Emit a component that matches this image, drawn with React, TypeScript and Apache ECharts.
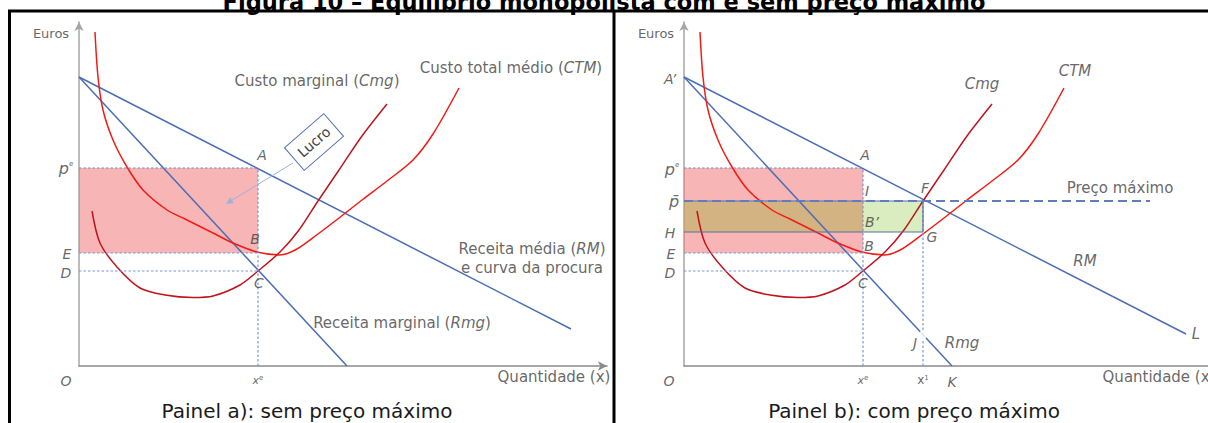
import React, { useEffect, useRef } from "react";
import * as echarts from "echarts";

// ---------- values (data units) ----------
const A_INTERCEPT = 28.9; // A' : price intercept of RM and Rmg
const RM_END_A: [number, number] = [49.2, 3.7];
const RM_END_B: [number, number] = [50.2, 3.2]; // L
const RMG_ZERO_X = 26.8; // K
const X_E = 17.9;
const P_E = 19.8;
const E_LEVEL = 11.3;
const D_LEVEL = 9.5;
const P_BAR = 16.5;
const H_LEVEL = 13.4;
const X_1 = 23.9;
const J_LEVEL = 3.1;
const PRICE_CAP_END = 46.6;
const LUCRO_ARROW: [number, number][] = [[21.4, 20.3], [15.0, 16.4]];

const ctmX = [1.6, 1.9, 2.4, 3.4, 4.8, 6.4, 8.8, 10.6, 13.4, 15.4, 17.8, 20.1, 21.8, 23.9, 26.0, 28.3, 30.8, 33.4, 35.4, 38.0];
const ctmY = [33.4, 28.9, 25.6, 22.6, 19.9, 17.6, 15.6, 14.7, 13.3, 12.3, 11.4, 11.1, 11.7, 13.2, 14.8, 16.6, 18.5, 20.6, 23.2, 27.8];
const cmgX = [1.3, 2.1, 3.8, 6.1, 8.6, 11.4, 13.4, 16.1, 17.9, 20.1, 22.0, 23.9, 26.0, 28.3, 30.8];
const cmgY = [15.5, 12.3, 9.9, 7.8, 7.1, 6.85, 7.0, 8.1, 9.5, 11.4, 13.6, 16.5, 19.6, 23.0, 26.2];

const X_MAX_A = 52.8;
const X_MAX_B = 52.4;
const Y_MAX = 34.4;

const FONT = "DejaVu Sans";
const TXT = "#404040";
const BLUE = "#4A6DB5";
const RED = "#F21B16";
const DARK_RED = "#C0141C";
const DASH = "#7C95D6";

const rich: any = {
  n: { fontSize: 15, fontFamily: FONT, color: TXT },
  e: { fontSize: 13, fontFamily: FONT, color: TXT },
  i: { fontSize: 15, fontFamily: FONT, color: TXT, fontStyle: "italic" },
  L: { fontSize: 14, fontFamily: FONT, color: TXT, fontStyle: "italic" },
  p: { fontSize: 16, fontFamily: FONT, color: TXT, fontStyle: "italic" },
  x: { fontSize: 11, fontFamily: FONT, color: TXT, fontStyle: "italic" },
  xn: { fontSize: 12, fontFamily: FONT, color: TXT },
  s: { fontSize: 7, fontFamily: FONT, color: TXT, verticalAlign: "top" },
};

type Lab = { t: string; at: [number, number]; off: [number, number] };

const ctmTop: [number, number] = [ctmX[ctmX.length - 1], ctmY[ctmY.length - 1]];
const cmgTop: [number, number] = [cmgX[cmgX.length - 1], cmgY[cmgY.length - 1]];

const labelsA: Lab[] = [
  { t: "{e|Euros}", at: [0, Y_MAX], off: [-28, 11] },
  { t: "{L|O}", at: [0, 0], off: [-13, 15] },
  { t: "{p|p}{s|e}", at: [0, P_E], off: [-13, 0] },
  { t: "{L|E}", at: [0, E_LEVEL], off: [-12, 1] },
  { t: "{L|D}", at: [0, D_LEVEL], off: [-13, 2] },
  { t: "{L|A}", at: [X_E, P_E], off: [4, -13] },
  { t: "{L|B}", at: [X_E, E_LEVEL], off: [-3, -14] },
  { t: "{L|C}", at: [X_E, D_LEVEL], off: [1, 12] },
  { t: "{x|x}{s|e}", at: [X_E, 0], off: [0, 14] },
  { t: "{n|Quantidade (x)}", at: [X_MAX_A, 0], off: [-53, 11] },
  { t: "{n|Custo marginal (}{i|Cmg}{n|)}", at: cmgTop, off: [-70, -23] },
  { t: "{n|Custo total médio (}{i|CTM}{n|)}", at: ctmTop, off: [52, -20] },
  { t: "{n|Receita média (}{i|RM}{n|)}", at: RM_END_A, off: [-39, -80] },
  { t: "{n|e curva da procura}", at: RM_END_A, off: [-39, -61] },
  { t: "{n|Receita marginal (}{i|Rmg}{n|)}", at: [RMG_ZERO_X, 0], off: [55, -43] },
];

const labelsB: Lab[] = [
  { t: "{e|Euros}", at: [0, Y_MAX], off: [-28, 11] },
  { t: "{L|A’}", at: [0, A_INTERCEPT], off: [-14, 2] },
  { t: "{p|p}{s|e}", at: [0, P_E], off: [-12, 1] },
  { t: "{p|p̄}", at: [0, P_BAR], off: [-10, 0] },
  { t: "{L|H}", at: [0, H_LEVEL], off: [-14, 1] },
  { t: "{L|E}", at: [0, E_LEVEL], off: [-13, 1] },
  { t: "{L|D}", at: [0, D_LEVEL], off: [-14, 2] },
  { t: "{L|O}", at: [0, 0], off: [-15, 15] },
  { t: "{L|A}", at: [X_E, P_E], off: [2, -13] },
  { t: "{L|I}", at: [X_E, P_BAR], off: [4, -10] },
  { t: "{L|F}", at: [X_1, P_BAR], off: [2, -13] },
  { t: "{L|B’}", at: [X_E, H_LEVEL], off: [9, -10] },
  { t: "{L|B}", at: [X_E, E_LEVEL], off: [6, -7] },
  { t: "{L|G}", at: [X_1, H_LEVEL], off: [9, 5] },
  { t: "{L|C}", at: [X_E, D_LEVEL], off: [0, 12] },
  { t: "{x|x}{s|e}", at: [X_E, 0], off: [0, 14] },
  { t: "{xn|x}{s|1}", at: [X_1, 0], off: [0, 14] },
  { t: "{L|K}", at: [RMG_ZERO_X, 0], off: [0, 16] },
  { t: "{L|J}", at: [X_1, J_LEVEL], off: [-8, 8] },
  { t: "{i|Rmg}", at: [X_1, J_LEVEL], off: [39, 8] },
  { t: "{i|RM}", at: RM_END_B, off: [-101, -73] },
  { t: "{i|L}", at: RM_END_B, off: [10, 0] },
  { t: "{i|Cmg}", at: cmgTop, off: [-10, -20] },
  { t: "{i|CTM}", at: ctmTop, off: [11, -17] },
  { t: "{n|Preço máximo}", at: [PRICE_CAP_END, P_BAR], off: [-30, -13] },
  { t: "{n|Quantidade (x)}", at: [X_MAX_B, 0], off: [-49, 11] },
];

function zip(xs: number[], ys: number[]) {
  return xs.map((x, k) => [x, ys[k]]);
}

function seg(idx: number, data: number[][], color: string, width: number, type: any, z = 4) {
  return {
    type: "line",
    xAxisIndex: idx,
    yAxisIndex: idx,
    data,
    symbol: "none",
    silent: true,
    z,
    lineStyle: { color, width, type },
  };
}

function panel(idx: number, isB: boolean) {
  const s: any[] = [];
  s.push(seg(idx, [[0, A_INTERCEPT], isB ? RM_END_B : RM_END_A], BLUE, 1.5, "solid", 2));
  s.push(seg(idx, [[0, A_INTERCEPT], [RMG_ZERO_X, 0]], BLUE, 1.5, "solid", 2));
  s.push({ ...seg(idx, zip(ctmX, ctmY), RED, 1.5, "solid", 2), smooth: 0.3 });
  s.push({ ...seg(idx, zip(cmgX, cmgY), DARK_RED, 1.5, "solid", 2), smooth: 0.3 });

  const areas: any[] = [
    [
      { coord: [0, E_LEVEL], itemStyle: { color: "rgba(240,100,100,0.48)" } },
      { coord: [X_E, P_E] },
    ],
  ];
  if (isB) {
    areas.push([
      { coord: [0, H_LEVEL], itemStyle: { color: "rgba(176,178,80,0.5)" } },
      { coord: [X_E, P_BAR] },
    ]);
    areas.push([
      { coord: [X_E, H_LEVEL], itemStyle: { color: "rgba(179,219,129,0.5)" } },
      { coord: [X_1, P_BAR] },
    ]);
  }
  s.push({
    type: "line",
    xAxisIndex: idx,
    yAxisIndex: idx,
    data: [],
    z: 3,
    silent: true,
    markArea: { silent: true, data: areas },
  });

  const d = [2.5, 2];
  s.push(seg(idx, [[0, P_E], [X_E, P_E]], "#7F84B8", 1.2, d));
  s.push(seg(idx, [[0, E_LEVEL], [X_E, E_LEVEL]], DASH, 1.2, d));
  s.push(seg(idx, [[0, D_LEVEL], [X_E, D_LEVEL]], DASH, 1.2, d));
  s.push(seg(idx, [[X_E, 0], [X_E, P_E]], DASH, 1.2, d));

  if (isB) {
    s.push(seg(idx, [[X_1, 0], [X_1, P_BAR]], DASH, 1.2, d));
    s.push(seg(idx, [[0, H_LEVEL], [X_1, H_LEVEL], [X_1, P_BAR]], "#5B6FA0", 1.2, "solid", 5));
    s.push(seg(idx, [[0, P_BAR], [X_1, P_BAR]], "#5B6FA0", 1.2, "solid", 5));
    s.push(seg(idx, [[0, P_BAR], [PRICE_CAP_END, P_BAR]], "#5F7CC0", 2, [9, 5], 6));
    s.push({
      type: "scatter",
      xAxisIndex: idx,
      yAxisIndex: idx,
      data: [[X_1, J_LEVEL]],
      symbol: "emptyCircle",
      symbolSize: 7,
      z: 6,
      silent: true,
      itemStyle: { color: "#fff", borderColor: "#999", borderWidth: 1 },
    });
  } else {
    s.push({
      type: "line",
      xAxisIndex: idx,
      yAxisIndex: idx,
      data: [],
      z: 6,
      silent: true,
      markLine: {
        silent: true,
        symbol: ["none", "triangle"],
        symbolSize: 7,
        label: { show: false },
        lineStyle: { color: "#9DB0DC", width: 1, type: "solid" },
        itemStyle: { color: BLUE },
        data: [[{ coord: LUCRO_ARROW[0] }, { coord: LUCRO_ARROW[1], itemStyle: { color: BLUE } }]],
      },
    });
  }

  const labs = isB ? labelsB : labelsA;
  s.push({
    type: "scatter",
    xAxisIndex: idx,
    yAxisIndex: idx,
    symbolSize: 1,
    silent: true,
    z: 10,
    itemStyle: { color: "rgba(0,0,0,0)" },
    data: labs.map((l) => ({
      value: l.at,
      label: {
        show: true,
        position: "inside",
        offset: l.off,
        formatter: l.t,
        rich,
      },
    })),
  });
  return s;
}

function axis(idx: number, max: number, arrow: boolean, color: string) {
  return {
    type: "value",
    gridIndex: idx,
    min: 0,
    max,
    axisLine: {
      show: true,
      lineStyle: { color, width: 1.5 },
      symbol: arrow ? ["none", "arrow"] : ["none", "none"],
      symbolSize: [7, 9],
    },
    axisTick: { show: false },
    axisLabel: { show: false },
    splitLine: { show: false },
  };
}

export default function App() {
  const ref = useRef<HTMLDivElement>(null);
  useEffect(() => {
    if (!ref.current) return;
    const chart = echarts.init(ref.current, null, { renderer: "svg" });
    const option: any = {
      animation: false,
      backgroundColor: "#ffffff",
      grid: [
        { left: 79, top: 22, width: 528, height: 344 },
        { left: 684, top: 22, width: 524, height: 344 },
      ],
      xAxis: [axis(0, X_MAX_A, true, "#8a8a8a"), axis(1, X_MAX_B, false, "#8a8a8a")],
      yAxis: [axis(0, Y_MAX, true, "#a6a6a6"), axis(1, Y_MAX, true, "#a6a6a6")],
      series: [...panel(0, false), ...panel(1, true)],
      graphic: [
        {
          type: "text",
          x: 604,
          y: 13,
          z: 100,
          style: {
            text: "Figura 10 – Equilíbrio monopolista com e sem preço máximo",
            font: "bold 22.5px DejaVu Sans",
            fill: "#000",
            align: "center",
            verticalAlign: "bottom",
          },
        },
        { type: "line", z: 100, shape: { x1: 8, y1: 11, x2: 1208, y2: 11 }, style: { stroke: "#000", lineWidth: 3 } },
        { type: "line", z: 100, shape: { x1: 9.5, y1: 10, x2: 9.5, y2: 423 }, style: { stroke: "#000", lineWidth: 3 } },
        { type: "line", z: 100, shape: { x1: 614, y1: 10, x2: 614, y2: 423 }, style: { stroke: "#000", lineWidth: 3 } },
        {
          type: "text",
          x: 307,
          y: 411,
          z: 100,
          style: { text: "Painel a): sem preço máximo", font: "20px DejaVu Sans", fill: "#1a1a1a", align: "center", verticalAlign: "middle" },
        },
        {
          type: "text",
          x: 914,
          y: 411,
          z: 100,
          style: { text: "Painel b): com preço máximo", font: "20px DejaVu Sans", fill: "#1a1a1a", align: "center", verticalAlign: "middle" },
        },
        {
          type: "group",
          x: 314,
          y: 142,
          z: 100,
          rotation: (41 * Math.PI) / 180,
          children: [
            { type: "rect", shape: { x: -26, y: -15, width: 52, height: 30 }, style: { fill: "#fff", stroke: BLUE, lineWidth: 1 } },
            { type: "text", style: { text: "Lucro", x: 0, y: 0, font: "14px DejaVu Sans", fill: TXT, align: "center", verticalAlign: "middle" } },
          ],
        },
      ],
    };
    chart.setOption(option);
    return () => chart.dispose();
  }, []);
  return <div ref={ref} style={{ position: "absolute", left: 0, top: 0, width: 1208, height: 423 }} />;
}
